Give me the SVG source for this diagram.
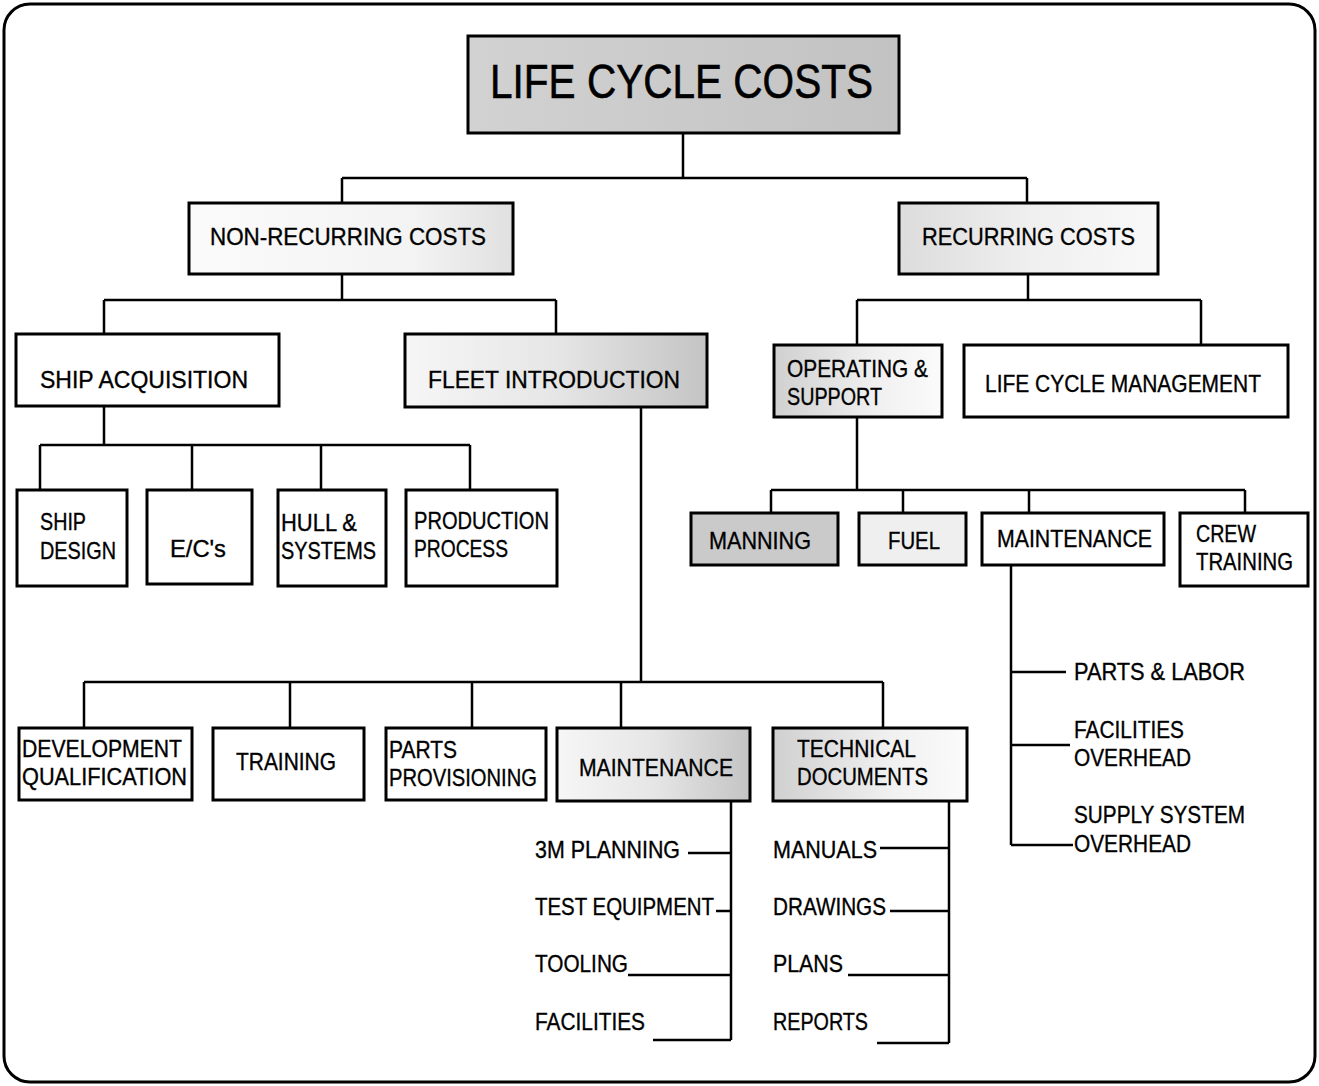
<svg xmlns="http://www.w3.org/2000/svg" width="1319" height="1086" viewBox="0 0 1319 1086">
<style>
.box{fill:#fff;stroke:#000;stroke-width:3}
.t{font-family:"Liberation Sans",Arial,sans-serif;font-size:24px;fill:#000;stroke:#000;stroke-width:0.35}
.ln{fill:none;stroke:#000;stroke-width:2.5}
</style>
<defs>
<linearGradient id="gTitle" x1="0" y1="0" x2="1" y2="0"><stop offset="0" stop-color="#d2d2d2"/><stop offset="1" stop-color="#c2c2c2"/></linearGradient>
<linearGradient id="gRight" x1="0" y1="0" x2="1" y2="0"><stop offset="0" stop-color="#f6f6f6"/><stop offset="0.5" stop-color="#e6e6e6"/><stop offset="1" stop-color="#c4c4c4"/></linearGradient>
<linearGradient id="gLightR" x1="0" y1="0" x2="1" y2="0"><stop offset="0" stop-color="#fbfbfb"/><stop offset="0.7" stop-color="#f3f3f3"/><stop offset="1" stop-color="#e0e0e0"/></linearGradient>
<linearGradient id="gLeft" x1="0" y1="0" x2="1" y2="0"><stop offset="0" stop-color="#d0d0d0"/><stop offset="0.6" stop-color="#f0f0f0"/><stop offset="1" stop-color="#fbfbfb"/></linearGradient>
<linearGradient id="gLightL" x1="0" y1="0" x2="1" y2="0"><stop offset="0" stop-color="#dcdcdc"/><stop offset="0.5" stop-color="#efefef"/><stop offset="1" stop-color="#f9f9f9"/></linearGradient>
</defs>
<rect x="4" y="4" width="1311" height="1078" rx="26" fill="#fff" stroke="#000" stroke-width="3"/>

<g id="connectors">
<path class="ln" d="M683 133V178M342 178H1027M342 178V203M1027 178V203"/>
<path class="ln" d="M342 274V300M104 300H556M104 300V334M556 300V334"/>
<path class="ln" d="M1028 274V300M857 300H1201M857 300V345M1201 300V345"/>
<path class="ln" d="M104 406V445M40 445H470M40 445V490M192 445V490M321 445V490M470 445V490"/>
<path class="ln" d="M857 417V490M771 490H1245M771 490V513M903 490V513M1029 490V513M1245 490V513"/>
<path class="ln" d="M641 407V682M84 682H883M84 682V728M290 682V728M472 682V728M621 682V728M883 682V728"/>
<path class="ln" d="M1011 565V845M1011 672H1066M1011 745H1070M1011 845H1073"/>
<path class="ln" d="M731 801V1040M688 853H731M716 911H731M628 975H731M653 1040H731"/>
<path class="ln" d="M949 801V1043M880 848H949M890 911H949M848 975H949M877 1043H949"/>
</g>

<g id="n-lcc"><rect class="box" x="468" y="36" width="431" height="97" style="fill:url(#gTitle)"/><text class="t" x="490" y="98" style="font-size:49px;stroke-width:0.6" textLength="383" lengthAdjust="spacingAndGlyphs">LIFE CYCLE COSTS</text></g>

<g id="n-nonrec"><rect class="box" x="189" y="203" width="324" height="71" style="fill:url(#gLightR)"/><text class="t" x="210" y="245" textLength="276" lengthAdjust="spacingAndGlyphs">NON-RECURRING COSTS</text></g>
<g id="n-rec"><rect class="box" x="899" y="203" width="259" height="71" style="fill:url(#gLightL)"/><text class="t" x="922" y="245" textLength="213" lengthAdjust="spacingAndGlyphs">RECURRING COSTS</text></g>

<g id="n-shipacq"><rect class="box" x="16" y="334" width="263" height="72"/><text class="t" x="40" y="388" textLength="208" lengthAdjust="spacingAndGlyphs">SHIP ACQUISITION</text></g>
<g id="n-fleet"><rect class="box" x="405" y="334" width="302" height="73" style="fill:url(#gRight)"/><text class="t" x="428" y="388" textLength="252" lengthAdjust="spacingAndGlyphs">FLEET INTRODUCTION</text></g>

<g id="n-os"><rect class="box" x="774" y="345" width="168" height="72" style="fill:url(#gLeft)"/><text class="t" x="787" y="377" textLength="141" lengthAdjust="spacingAndGlyphs">OPERATING &amp;</text><text class="t" x="787" y="405" textLength="95" lengthAdjust="spacingAndGlyphs">SUPPORT</text></g>
<g id="n-lcm"><rect class="box" x="964" y="345" width="324" height="72"/><text class="t" x="985" y="392" textLength="276" lengthAdjust="spacingAndGlyphs">LIFE CYCLE MANAGEMENT</text></g>

<g id="n-shipdesign"><rect class="box" x="17" y="490" width="110" height="96"/><text class="t" x="40" y="530" textLength="46" lengthAdjust="spacingAndGlyphs">SHIP</text><text class="t" x="40" y="559" textLength="76" lengthAdjust="spacingAndGlyphs">DESIGN</text></g>
<g id="n-ec"><rect class="box" x="147" y="490" width="105" height="94"/><text class="t" x="170" y="557" textLength="56" lengthAdjust="spacingAndGlyphs">E/C's</text></g>
<g id="n-hull"><rect class="box" x="278" y="490" width="108" height="96"/><text class="t" x="281" y="531" textLength="76" lengthAdjust="spacingAndGlyphs">HULL &amp;</text><text class="t" x="281" y="559" textLength="95" lengthAdjust="spacingAndGlyphs">SYSTEMS</text></g>
<g id="n-prod"><rect class="box" x="406" y="490" width="151" height="96"/><text class="t" x="414" y="529" textLength="135" lengthAdjust="spacingAndGlyphs">PRODUCTION</text><text class="t" x="414" y="557" textLength="94" lengthAdjust="spacingAndGlyphs">PROCESS</text></g>

<g id="n-manning"><rect class="box" x="691" y="513" width="147" height="52" style="fill:#cacaca"/><text class="t" x="709" y="549" textLength="102" lengthAdjust="spacingAndGlyphs">MANNING</text></g>
<g id="n-fuel"><rect class="box" x="859" y="513" width="107" height="52" style="fill:#efefef"/><text class="t" x="888" y="549" textLength="52" lengthAdjust="spacingAndGlyphs">FUEL</text></g>
<g id="n-maint-r"><rect class="box" x="982" y="513" width="182" height="52"/><text class="t" x="997" y="547" textLength="155" lengthAdjust="spacingAndGlyphs">MAINTENANCE</text></g>
<g id="n-crew"><rect class="box" x="1180" y="513" width="128" height="73"/><text class="t" x="1196" y="542" textLength="60" lengthAdjust="spacingAndGlyphs">CREW</text><text class="t" x="1196" y="570" textLength="97" lengthAdjust="spacingAndGlyphs">TRAINING</text></g>

<g id="n-parts-labor"><text class="t" x="1074" y="680" textLength="171" lengthAdjust="spacingAndGlyphs">PARTS &amp; LABOR</text></g>
<g id="n-fac-oh"><text class="t" x="1074" y="738" textLength="110" lengthAdjust="spacingAndGlyphs">FACILITIES</text><text class="t" x="1074" y="766" textLength="117" lengthAdjust="spacingAndGlyphs">OVERHEAD</text></g>
<g id="n-supply-oh"><text class="t" x="1074" y="823" textLength="171" lengthAdjust="spacingAndGlyphs">SUPPLY SYSTEM</text><text class="t" x="1074" y="852" textLength="117" lengthAdjust="spacingAndGlyphs">OVERHEAD</text></g>

<g id="n-devqual"><rect class="box" x="19" y="728" width="173" height="72"/><text class="t" x="22" y="757" textLength="160" lengthAdjust="spacingAndGlyphs">DEVELOPMENT</text><text class="t" x="22" y="785" textLength="165" lengthAdjust="spacingAndGlyphs">QUALIFICATION</text></g>
<g id="n-training"><rect class="box" x="213" y="728" width="151" height="72"/><text class="t" x="236" y="770" textLength="100" lengthAdjust="spacingAndGlyphs">TRAINING</text></g>
<g id="n-partsprov"><rect class="box" x="386" y="728" width="160" height="72"/><text class="t" x="389" y="758" textLength="68" lengthAdjust="spacingAndGlyphs">PARTS</text><text class="t" x="389" y="786" textLength="148" lengthAdjust="spacingAndGlyphs">PROVISIONING</text></g>
<g id="n-maint-l"><rect class="box" x="557" y="728" width="193" height="73" style="fill:url(#gRight)"/><text class="t" x="579" y="776" textLength="154" lengthAdjust="spacingAndGlyphs">MAINTENANCE</text></g>
<g id="n-techdocs"><rect class="box" x="773" y="728" width="194" height="73" style="fill:url(#gLeft)"/><text class="t" x="797" y="757" textLength="119" lengthAdjust="spacingAndGlyphs">TECHNICAL</text><text class="t" x="797" y="785" textLength="131" lengthAdjust="spacingAndGlyphs">DOCUMENTS</text></g>

<g id="n-3m"><text class="t" x="535" y="858" textLength="145" lengthAdjust="spacingAndGlyphs">3M PLANNING</text></g>
<g id="n-testeq"><text class="t" x="535" y="915" textLength="179" lengthAdjust="spacingAndGlyphs">TEST EQUIPMENT</text></g>
<g id="n-tooling"><text class="t" x="535" y="972" textLength="93" lengthAdjust="spacingAndGlyphs">TOOLING</text></g>
<g id="n-facilities"><text class="t" x="535" y="1030" textLength="110" lengthAdjust="spacingAndGlyphs">FACILITIES</text></g>
<g id="n-manuals"><text class="t" x="773" y="858" textLength="104" lengthAdjust="spacingAndGlyphs">MANUALS</text></g>
<g id="n-drawings"><text class="t" x="773" y="915" textLength="113" lengthAdjust="spacingAndGlyphs">DRAWINGS</text></g>
<g id="n-plans"><text class="t" x="773" y="972" textLength="70" lengthAdjust="spacingAndGlyphs">PLANS</text></g>
<g id="n-reports"><text class="t" x="773" y="1030" textLength="95" lengthAdjust="spacingAndGlyphs">REPORTS</text></g>
</svg>
